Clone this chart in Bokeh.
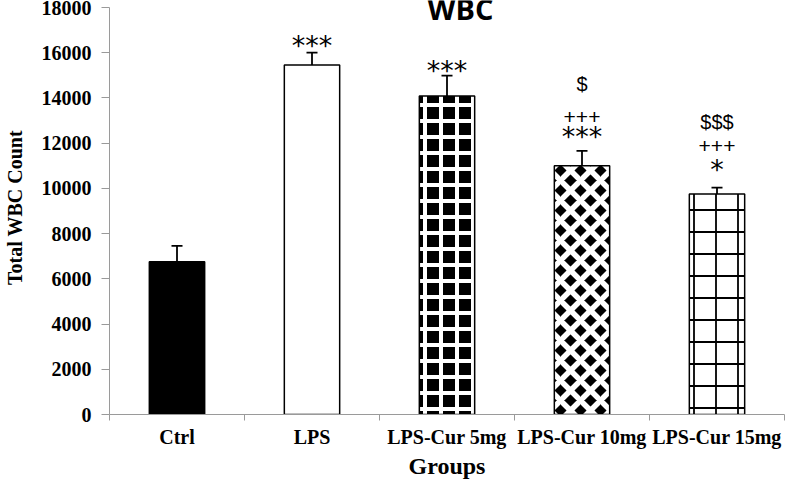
import numpy as np
from bokeh.plotting import figure
from bokeh.models import (ColumnDataSource, Whisker, TeeHead, FixedTicker, Range1d, Label)
from bokeh.core.properties import value
from bokeh.embed import file_html
from bokeh.resources import INLINE

groups = ["Ctrl", "LPS", "LPS-Cur 5mg", "LPS-Cur 10mg", "LPS-Cur 15mg"]
wbc_mean = [6750, 15450, 14080, 11000, 9750]
wbc_err = [700, 550, 900, 650, 280]
stars = ["", "***", "***", "***", "*"]
star_y = [0, 16320, 15220, 12270, 10840]
plus = ["", "", "", "+++", "+++"]
plus_y = [0, 0, 0, 13130, 11860]
dollars = ["", "", "", "$", "$$$"]
dollar_y = [0, 0, 0, 14600, 12930]
y_ticks = [0, 2000, 4000, 6000, 8000, 10000, 12000, 14000, 16000, 18000]
y_axis_max = 18000
y_view_max = 18300
title_text = "WBC"
title_x = 2.6
title_y = 17950

fills = ["black", "white", "black", "black", "white"]
hatch_cols = ["black", "black", "white", "white", "black"]
hatches = [" ", " ", "cross", "diagonal_cross", "cross"]
hatch_scales = [8, 8, 16, 20, 22]
hatch_weights = [1, 1, 4, 5.5, 1.8]

n = len(groups)
xs = np.arange(n) + 0.5

p = figure(width=787, height=481, output_backend="svg", toolbar_location=None,
           x_range=Range1d(0, n), y_range=Range1d(0, y_view_max),
           min_border_left=107, min_border_right=3, min_border_top=0, min_border_bottom=60)
p.outline_line_color = None
p.grid.grid_line_color = None
p.background_fill_color = "white"

src = ColumnDataSource(dict(x=xs, top=wbc_mean, upper=np.array(wbc_mean) + np.array(wbc_err),
                            fill=fills, hc=hatch_cols, hatch=hatches, hs=hatch_scales, hw=hatch_weights))
p.vbar(x="x", top="top", bottom=0, width=0.41, source=src, fill_color="fill",
       line_color="black", line_width=1.5, hatch_pattern="hatch", hatch_color="hc",
       hatch_scale="hs", hatch_weight="hw")

wh = Whisker(base="x", lower="top", upper="upper", source=src, line_color="black", line_width=1.8,
             lower_head=None, upper_head=TeeHead(size=11, line_width=1.8, line_color="black"))
p.add_layout(wh)

p.text(x=xs, y=star_y, text=stars, text_font=value("DejaVu Sans"), text_font_size="27px",
       text_align="center", text_baseline="middle", text_color="black")
p.text(x=xs, y=plus_y, text=plus, text_font=value("Liberation Sans"), text_font_size="21px",
       text_align="center", text_baseline="middle", text_color="black")
p.text(x=xs, y=dollar_y, text=dollars, text_font=value("Liberation Sans"), text_font_size="20px",
       text_align="center", text_baseline="middle", text_color="black")

title = Label(x=title_x, y=title_y, text=title_text, text_font="Open Sans", text_font_size="29px",
              text_font_style="bold", text_align="center", text_baseline="middle",
              text_color="black", level="overlay")
p.add_layout(title)

axis_col = "#9a9a9a"
serif = "Liberation Serif"

p.yaxis.ticker = FixedTicker(ticks=y_ticks)
p.yaxis.bounds = (0, y_axis_max)
p.yaxis.axis_line_color = axis_col
p.yaxis.major_tick_line_color = axis_col
p.yaxis.major_tick_out = 8
p.yaxis.major_tick_in = 0
p.yaxis.minor_tick_line_color = None
p.yaxis.major_label_text_font = serif
p.yaxis.major_label_text_font_style = "bold"
p.yaxis.major_label_text_font_size = "20px"
p.yaxis.major_label_text_color = "black"
p.yaxis.major_label_standoff = 10
p.yaxis.axis_label = "Total WBC Count"
p.yaxis.axis_label_text_font = serif
p.yaxis.axis_label_text_font_style = "bold"
p.yaxis.axis_label_text_font_size = "20px"
p.yaxis.axis_label_text_color = "black"
p.yaxis.axis_label_standoff = 13

p.xaxis.ticker = FixedTicker(ticks=list(xs), minor_ticks=list(range(n + 1)))
p.xaxis.major_label_overrides = {float(x): g for x, g in zip(xs, groups)}
p.xaxis.axis_line_color = axis_col
p.xaxis.major_tick_line_color = None
p.xaxis.minor_tick_line_color = axis_col
p.xaxis.minor_tick_out = 6
p.xaxis.minor_tick_in = 0
p.xaxis.major_label_text_font = serif
p.xaxis.major_label_text_font_style = "bold"
p.xaxis.major_label_text_font_size = "20px"
p.xaxis.major_label_text_color = "black"
p.xaxis.major_label_standoff = 5
p.xaxis.axis_label = "Groups"
p.xaxis.axis_label_text_font = serif
p.xaxis.axis_label_text_font_style = "bold"
p.xaxis.axis_label_text_font_size = "24px"
p.xaxis.axis_label_text_color = "black"
p.xaxis.axis_label_standoff = 2

open("out.html", "w").write(file_html(p, INLINE))
